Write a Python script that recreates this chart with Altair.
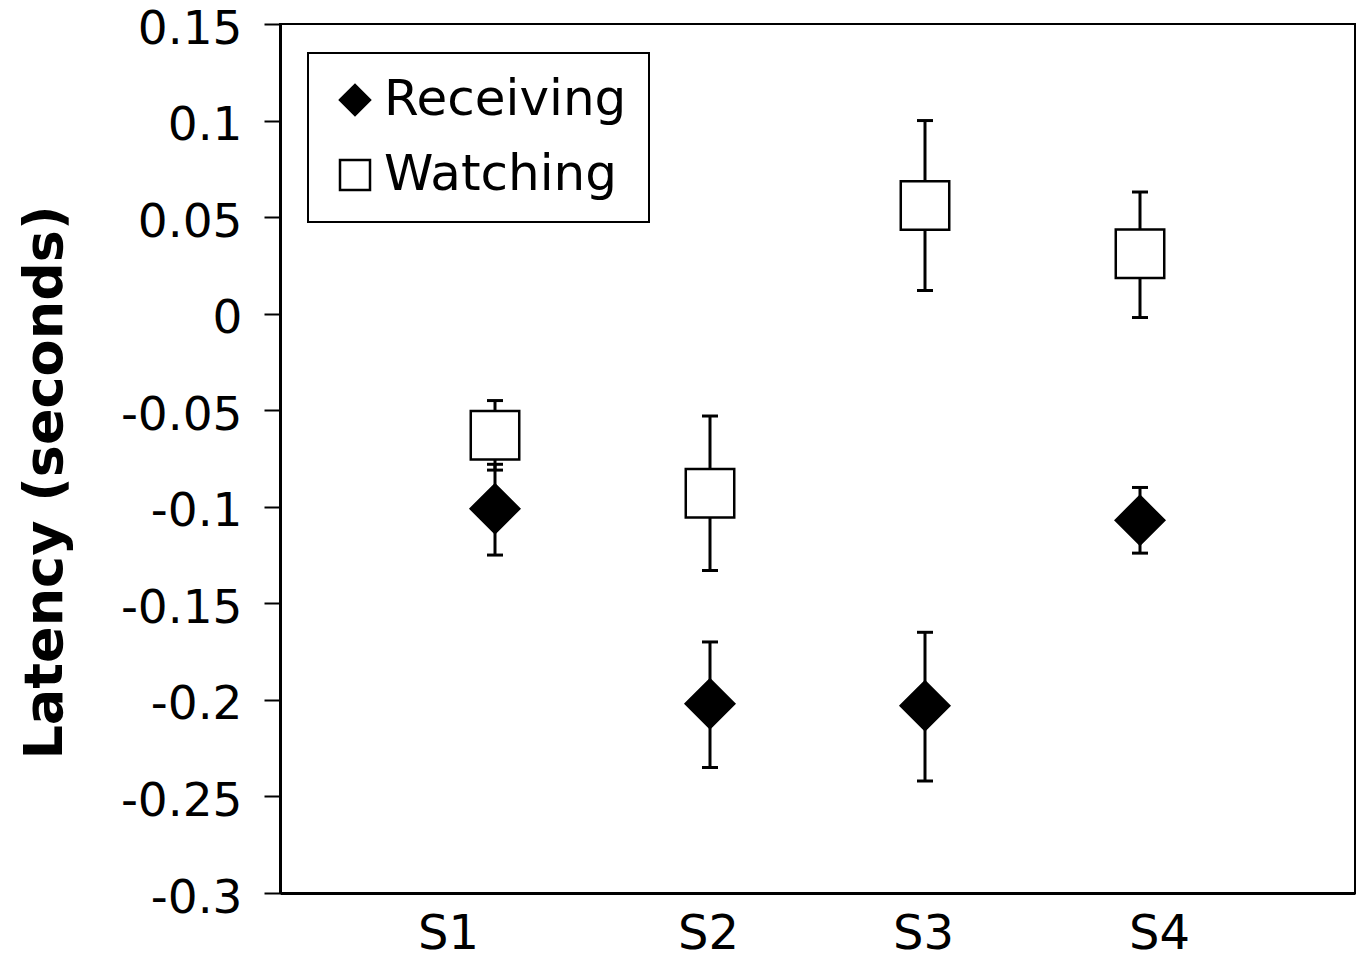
import altair as alt
import pandas as pd

subjects = ["S1", "S2", "S3", "S4"]
series_names = ["Receiving", "Watching"]

receiving_mean = [-0.101, -0.202, -0.203, -0.107]
receiving_low = [-0.125, -0.235, -0.242, -0.124]
receiving_high = [-0.078, -0.170, -0.165, -0.090]

watching_mean = [-0.063, -0.093, 0.056, 0.031]
watching_low = [-0.081, -0.133, 0.012, -0.002]
watching_high = [-0.045, -0.053, 0.100, 0.063]

y_ticks = [0.15, 0.1, 0.05, 0, -0.05, -0.1, -0.15, -0.2, -0.25, -0.3]

rows = []
for name, means, lows, highs in [
    ("Receiving", receiving_mean, receiving_low, receiving_high),
    ("Watching", watching_mean, watching_low, watching_high),
]:
    for s, m, lo, hi in zip(subjects, means, lows, highs):
        rows.append({"subject": s, "series": name, "mean": m, "low": lo, "high": hi})
df = pd.DataFrame(rows)
# draw squares first, diamonds on top
df_points = pd.concat([df[df.series == "Watching"], df[df.series == "Receiving"]])

FONT = "DejaVu Sans"

x_enc = alt.X(
    "subject:N",
    scale=alt.Scale(type="point", padding=1, domain=subjects),
    axis=alt.Axis(
        title=None, labelAngle=0, ticks=False, labelPadding=17,
        labelFontSize=48, labelFont=FONT, labelColor="black",
        labelOffset={
            "condition": [
                {"test": "datum.value === 'S1'", "value": -47},
                {"test": "datum.value === 'S4'", "value": 19},
            ],
            "value": -2,
        },
        domainColor="black", domainWidth=3, grid=False,
    ),
)

y_axis = alt.Axis(
    values=y_ticks,
    labelExpr="'' + datum.value",
    title="Latency (seconds)",
    titleFont=FONT, titleFontSize=54, titleFontWeight="bold", titleColor="black",
    titleX=-208, titleY=458,
    labelFont=FONT, labelFontSize=47, labelColor="black", labelPadding=22,
    labelOffset=5,
    tickSize=16, tickWidth=2, tickColor="black",
    domainColor="black", domainWidth=3, grid=False,
)
y_scale = alt.Scale(domain=[-0.3, 0.15], nice=False, zero=False)

base = alt.Chart(df)

stems = base.mark_rule(color="black", strokeWidth=3).encode(
    x=x_enc,
    y=alt.Y("low:Q", scale=y_scale, axis=y_axis),
    y2="high:Q",
)
caps_low = base.mark_rule(color="black", strokeWidth=3, xOffset=-8, x2Offset=8).encode(
    x=x_enc, x2="subject:N",
    y=alt.Y("low:Q", scale=y_scale, axis=y_axis),
)
caps_high = base.mark_rule(color="black", strokeWidth=3, xOffset=-8, x2Offset=8).encode(
    x=x_enc, x2="subject:N",
    y=alt.Y("high:Q", scale=y_scale, axis=y_axis),
)

legend = alt.Legend(
    title=None, orient="none", legendX=28, legendY=29,
    direction="vertical", strokeColor="black", padding=22,
    symbolOffset=0, symbolSize=900, symbolStrokeWidth=2.5,
    labelFont=FONT, labelFontSize=50, labelColor="black",
    labelOffset=4, rowPadding=25, labelLimit=0,
)

points = alt.Chart(df_points).mark_point(
    filled=True, strokeWidth=2.5, size=2350, opacity=1
).encode(
    x=x_enc,
    y=alt.Y("mean:Q", scale=y_scale, axis=y_axis),
    shape=alt.Shape(
        "series:N",
        scale=alt.Scale(domain=series_names, range=["diamond", "square"]),
        legend=legend,
    ),
    fill=alt.Fill(
        "series:N",
        scale=alt.Scale(domain=series_names, range=["black", "white"]),
        legend=legend,
    ),
    stroke=alt.Stroke(
        "series:N",
        scale=alt.Scale(domain=series_names, range=["black", "black"]),
        legend=legend,
    ),
)

chart = (
    alt.layer(stems, caps_low, caps_high, points)
    .properties(
        width=1075, height=869,
        padding={"left": 280, "top": 24, "right": 8, "bottom": 65},
        autosize=alt.AutoSizeParams(type="none"),
        background="white",
    )
    .configure_view(stroke="black", strokeWidth=2)
    .configure_legend(strokeWidth=2)
)

chart.save("out.html", embed_options={"renderer": "svg", "actions": False})
